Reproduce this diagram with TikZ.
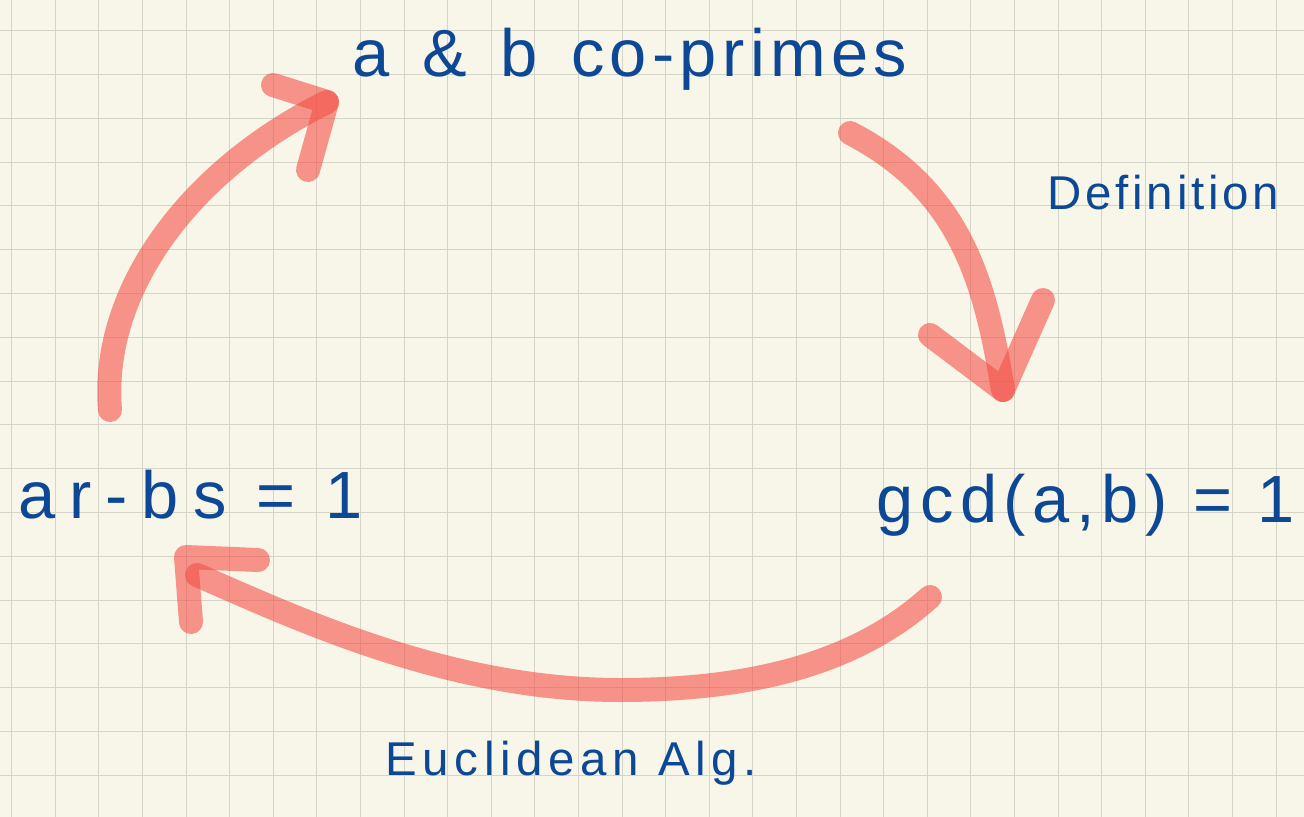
\documentclass[tikz,border=0pt]{standalone}
\usepackage{fontspec}
\newfontfamily\handfont[LetterSpace=8]{Liberation Sans}
\definecolor{paper}{RGB}{248,245,233}
\definecolor{gridline}{RGB}{212,212,200}
\definecolor{ink}{RGB}{12,72,150}
\definecolor{marker}{RGB}{245,80,70}

\begin{document}
\begin{tikzpicture}[x=0.02cm, y=-0.02cm,
    big/.style={font=\handfont\fontsize{38}{42}\selectfont, text=ink, inner sep=0pt, anchor=base west},
    small/.style={font=\handfont\fontsize{27}{32}\selectfont, text=ink, inner sep=0pt, anchor=base west},
    stroke/.style={draw=marker, opacity=0.6, line width=0.48cm, line cap=round, line join=round}]

% --- Paper and grid ---
\fill[paper] (0,0) rectangle (1304,817);
\useasboundingbox (0,0) rectangle (1304,817);
\foreach \i in {0,...,29} {
    \draw[gridline, line width=0.55pt] (11.7+43.6*\i,0) -- (11.7+43.6*\i,817);
}
\foreach \j in {0,...,17} {
    \draw[gridline, line width=0.55pt] (0,30.7+43.8*\j) -- (1304,30.7+43.8*\j);
}

% --- Statements ---
\node[big] (coprime) at (352,77) {\spaceskip=0.5em a \& b co-primes};
\node[big] (gcd) at (876,522) {\addfontfeature{LetterSpace=10}gcd(a,b) = 1};
\node[big] (bezout) at (18,518) {\addfontfeature{LetterSpace=21}\spaceskip=0.45em ar-bs = 1};

% --- Labels ---
\node[small] (defn) at (1047,210) {Definition};
\node[small] (euclid) at (385,775) {\addfontfeature{LetterSpace=12}Euclidean Alg.};

% --- Arrow ends ---
\coordinate (a1s) at (110,410);
\coordinate (a1e) at (327,102);
\coordinate (a2s) at (850,133);
\coordinate (a2e) at (1003,390);
\coordinate (a3s) at (930,597);
\coordinate (a3m) at (620,690);
\coordinate (a3e) at (197,575);

% --- Arrow: ar-bs = 1 to co-primes ---
\draw[stroke] (a1s) .. controls (100,290) and (190,170) .. (a1e);
\draw[stroke] (273,85) -- (a1e) -- (308,170);

% --- Arrow: co-primes to gcd ---
\draw[stroke] (a2s) .. controls (960,190) and (985,280) .. (a2e);
\draw[stroke] (930,335) -- (a2e) -- (1043,300);

% --- Arrow: gcd to ar-bs = 1 ---
\draw[stroke] (a3s) .. controls (860,660) and (760,690) .. (a3m)
    .. controls (450,690) and (300,620) .. (a3e);
\draw[stroke] (258,560) -- (186,557) -- (191,622);

\end{tikzpicture}
\end{document}
